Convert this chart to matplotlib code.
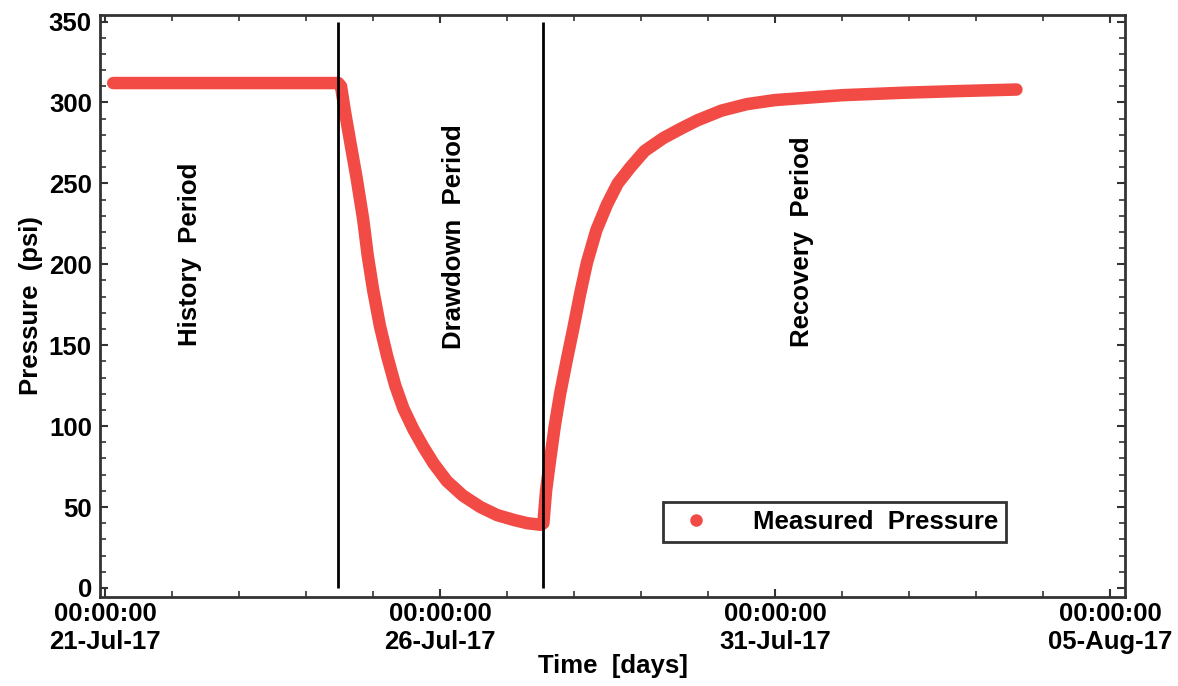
import numpy as np
import matplotlib.pyplot as plt
from matplotlib.lines import Line2D
from matplotlib.ticker import MultipleLocator

plt.rcParams['font.family'] = ['Liberation Sans', 'DejaVu Sans']
plt.rcParams['font.weight'] = 'bold'

# time in days after 00:00:00 21-Jul-17, pressure in psi
days = [0.12, 1.0, 2.0, 3.0, 3.48, 3.52,
        3.58, 3.66, 3.75, 3.85, 3.92, 4.0, 4.1, 4.21, 4.33, 4.45, 4.6,
        4.75, 4.9, 5.1, 5.34, 5.6, 5.85, 6.1, 6.3, 6.5,
        6.54, 6.58, 6.64, 6.71, 6.79, 6.89, 6.99, 7.09, 7.19, 7.33,
        7.49, 7.65, 7.84, 8.05, 8.33, 8.6, 8.84, 9.2, 9.58, 10.0,
        10.5, 11.0, 11.9, 12.7, 13.6]
pressure = [312, 312, 312, 312, 312, 310,
            294, 275, 254, 228, 205, 184, 162, 143, 125, 111, 98,
            87, 77, 66, 57, 50, 45, 42, 40, 39,
            40, 60, 79, 100, 120, 141, 161, 182, 201, 221,
            237, 250, 260, 270, 278, 284, 289, 295, 299, 301.5,
            303, 304.5, 306, 307, 308]

period_bounds = [3.48, 6.54]
period_names = ['History  Period', 'Drawdown  Period', 'Recovery  Period']
period_label_x = [1.27, 5.2, 10.4]
period_label_y = [206, 217, 214]

tick_days = [0, 5, 10, 15]
tick_labels = ['00:00:00\n21-Jul-17', '00:00:00\n26-Jul-17',
               '00:00:00\n31-Jul-17', '00:00:00\n05-Aug-17']

red = '#f24b46'
fs = 18.5

fig = plt.figure(figsize=(11.78, 6.86), dpi=100)
ax = fig.add_axes([0.085, 0.130, 0.870, 0.848])

ax.plot(days, pressure, color=red, lw=9, solid_capstyle='round',
        solid_joinstyle='round')
ax.vlines(period_bounds, 0, 350, color='black', lw=2)

for name, x, y in zip(period_names, period_label_x, period_label_y):
    ax.text(x, y, name, rotation=90, ha='center', va='center',
            fontsize=fs, fontweight='bold')

ax.set_xlim(-0.075, 15.22)
ax.set_ylim(-5.5, 354)
ax.set_xticks(tick_days)
ax.set_xticklabels(tick_labels)
ax.xaxis.set_minor_locator(MultipleLocator(1))
ax.set_yticks(np.arange(0, 351, 50))
ax.yaxis.set_minor_locator(MultipleLocator(10))
ax.tick_params(which='both', direction='in', top=True, right=True,
               labelsize=fs, color='#333333', pad=6)
ax.tick_params(which='major', length=6, width=1.5)
ax.tick_params(which='minor', length=4, width=1.2)
ax.tick_params(axis='x', which='both', pad=4)
for sp in ax.spines.values():
    sp.set_linewidth(2)
    sp.set_color('#333333')

ax.set_xlabel('Time  [days]', fontsize=fs, fontweight='bold', labelpad=0)
ax.set_ylabel('Pressure  (psi)', fontsize=fs, fontweight='bold', labelpad=4)

handle = Line2D([], [], color=red, marker='o', ls='none', markersize=8)
leg = ax.legend([handle], ['Measured  Pressure'], loc='lower left',
                bbox_to_anchor=(0.549, 0.0945), borderaxespad=0,
                fontsize=fs, fancybox=False, framealpha=1,
                edgecolor='#333333', handletextpad=1.2, borderpad=0.3)
leg.get_frame().set_linewidth(2)

fig.savefig('out.png', dpi=100)
